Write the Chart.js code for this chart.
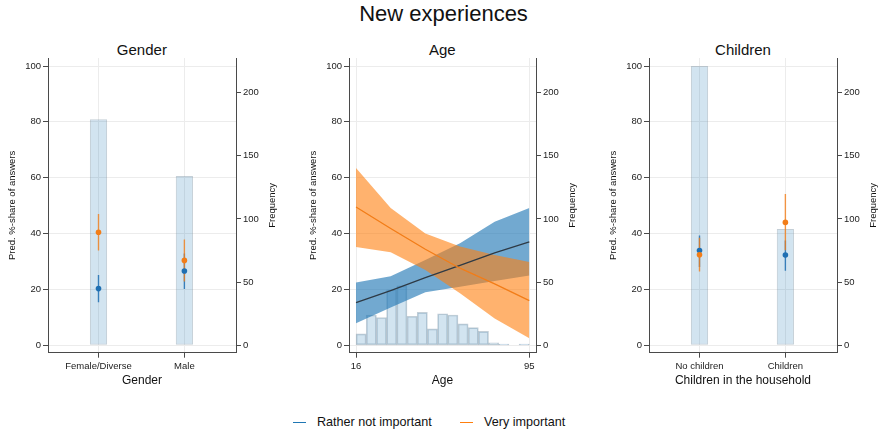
<!DOCTYPE html>
<html>
<head>
<meta charset="utf-8">
<title>New experiences</title>
<script src="https://cdn.jsdelivr.net/npm/chart.js@4.4.1/dist/chart.umd.min.js"></script>
<style>
  html, body { margin: 0; padding: 0; background: #fff; }
  #fig { position: relative; width: 880px; height: 432px; overflow: hidden; background: #fff;
         font-family: "Liberation Sans", Arial, Helvetica, sans-serif; color: #111; }
  .txt { position: absolute; white-space: nowrap; line-height: 1; }
  .panel { position: absolute; top: 40px; }
  .key { position: absolute; height: 1.6px; width: 13px; }
</style>
</head>
<body>
<div id="fig">
  <div class="txt" style="left:0; width:887px; text-align:center; top:3px; font-size:22px;">New experiences</div>
  <div class="txt" style="left:41.9px; width:200px; text-align:center; top:41.6px; font-size:15px;">Gender</div>
  <div class="txt" style="left:342.3px; width:200px; text-align:center; top:41.6px; font-size:15px;">Age</div>
  <div class="txt" style="left:643px; width:200px; text-align:center; top:41.6px; font-size:15px;">Children</div>

  <canvas class="panel" id="gender" width="286" height="360" style="left:0px"></canvas>
  <canvas class="panel" id="age" width="285" height="360" style="left:301px"></canvas>
  <canvas class="panel" id="children" width="286" height="360" style="left:601px"></canvas>

  <div class="key" style="left:293px; top:421.5px; background:#1f77b4;"></div>
  <div class="txt" style="left:317px; top:416px; font-size:12.6px;">Rather not important</div>
  <div class="key" style="left:460px; top:421.5px; background:#ff7f0e;"></div>
  <div class="txt" style="left:484px; top:416px; font-size:12.6px;">Very important</div>
</div>

<script>
// ---- Gender ----
const genderCategories = ['Female/Diverse', 'Male'];
const genderFrequency = [179, 134];
const genderRatherNot = [20.3, 26.6];
const genderRatherNotLow = [15.4, 20.2];
const genderRatherNotHigh = [25.2, 32.9];
const genderVery = [40.5, 30.4];
const genderVeryLow = [33.9, 22.8];
const genderVeryHigh = [47.0, 37.9];

// ---- Children in the household ----
const childrenCategories = ['No children', 'Children'];
const childrenFrequency = [221, 92];
const childrenRatherNot = [33.9, 32.3];
const childrenRatherNotLow = [28.0, 26.7];
const childrenRatherNotHigh = [39.3, 37.5];
const childrenVery = [32.4, 44.0];
const childrenVeryLow = [26.4, 34.0];
const childrenVeryHigh = [38.5, 54.2];

// ---- Age: predictions at evaluation points ----
const ageAt = [16, 31.8, 47.6, 63.4, 79.2, 95];
const ageRatherNot = [15.3, 19.6, 24.2, 28.6, 33.1, 37.0];
const ageRatherNotLow = [7.9, 13.5, 19.0, 21.0, 23.0, 25.0];
const ageRatherNotHigh = [22.5, 24.7, 30.5, 36.5, 44.2, 49.2];
const ageVery = [49.5, 41.8, 34.4, 27.6, 22.0, 16.0];
const ageVeryLow = [35.2, 33.3, 27.0, 18.6, 9.6, 2.5];
const ageVeryHigh = [63.5, 49.2, 40.0, 35.4, 32.3, 29.8];

// ---- Age histogram (17 equal bins from 16 to 95) ----
const ageBinFirst = 16;
const ageBinLast = 95;
const ageBinCounts = [9, 24, 22, 44, 47, 23, 26, 13, 25, 24, 17, 14, 11, 2, 1, 0, 1];
const ageTicks = [16, 95];

// ---- Axis ticks and titles ----
const shareTicks = [0, 20, 40, 60, 80, 100];
const frequencyTicks = [0, 50, 100, 150, 200];
const shareTitle = 'Pred. %-share of answers';
const frequencyTitle = 'Frequency';

// ---- Styling ----
const FONT = '"Liberation Sans", Arial, Helvetica, sans-serif';
const BLUE = 'rgb(31,111,178)';
const ORANGE = 'rgb(242,125,24)';
const BLUE_CI = 'rgba(31,111,178,0.85)';
const ORANGE_CI = 'rgba(242,125,24,0.8)';
const BLUE_BAND = 'rgba(31,119,180,0.63)';
const ORANGE_BAND = 'rgba(255,127,14,0.6)';
const BAR_FILL = 'rgba(31,119,180,0.2)';
const BAR_EDGE = 'rgba(115,140,160,0.42)';
const AXIS = '#4a4a4a';
const GRID = '#ececec';
const TEXT = '#222';

function fixedTicks(values) {
  return scale => { scale.ticks = values.map(v => ({ value: v })); };
}

// Right-hand axis title, written bottom-to-top like the left one
const rightAxisTitle = {
  id: 'rightAxisTitle',
  afterDraw(chart) {
    const s = chart.scales.y2;
    const area = chart.chartArea;
    const ctx = chart.ctx;
    ctx.save();
    ctx.translate(s.right - 13.5, (area.top + area.bottom) / 2);
    ctx.rotate(-Math.PI / 2);
    ctx.font = '9.5px ' + FONT;
    ctx.fillStyle = '#111';
    ctx.textAlign = 'center';
    ctx.textBaseline = 'middle';
    ctx.fillText(frequencyTitle, 0, 0);
    ctx.restore();
  }
};

function panelOptions(xCfg) {
  return {
    responsive: false,
    animation: false,
    devicePixelRatio: 1,
    layout: { padding: { top: 18, left: 0, right: 0, bottom: 0 } },
    plugins: { legend: { display: false }, tooltip: { enabled: false }, title: { display: false } },
    scales: {
      x: {
        type: 'linear',
        offset: false,
        min: xCfg.min,
        max: xCfg.max,
        afterBuildTicks: fixedTicks(xCfg.ticks),
        afterFit: s => { s.height = 47.3; },
        ticks: {
          autoSkip: false, maxRotation: 0, minRotation: 0, padding: 2.6,
          color: TEXT, font: { family: FONT, size: 9.5 },
          callback: xCfg.label
        },
        grid: { offset: false, color: GRID, tickColor: AXIS, tickLength: 5, lineWidth: 1 },
        border: { color: AXIS, width: 1 },
        title: { display: true, text: xCfg.title, color: '#111',
                 font: { family: FONT, size: 12 }, padding: { top: 0, bottom: 12.3 } }
      },
      y: {
        type: 'linear', position: 'left',
        min: -2.65, max: 102.87,
        afterBuildTicks: fixedTicks(shareTicks),
        afterFit: s => { s.width = 48; },
        ticks: { padding: 2, color: TEXT, font: { family: FONT, size: 9.5 } },
        grid: { color: GRID, tickColor: AXIS, tickLength: 5, lineWidth: 1 },
        border: { color: AXIS, width: 1 },
        title: { display: true, text: shareTitle, color: '#111',
                 font: { family: FONT, size: 9.5 }, padding: { top: 6.9, bottom: 0 } }
      },
      y2: {
        type: 'linear', position: 'right',
        min: -5.86, max: 227.4,
        afterBuildTicks: fixedTicks(frequencyTicks),
        afterFit: s => { s.width = 50; },
        ticks: { padding: 2, color: TEXT, font: { family: FONT, size: 9.5 } },
        grid: { drawOnChartArea: false, tickColor: AXIS, tickLength: 5 },
        border: { color: AXIS, width: 1 },
        title: { display: false }
      }
    }
  };
}

// Vertical confidence segments, one per category, separated by gaps
function ciSegments(low, high) {
  return low.flatMap((lo, i) => [{ x: i, y: lo }, { x: i, y: high[i] }, { x: i + 0.5, y: null }]);
}

function categoryPanel(id, categories, freq, rn, rnLo, rnHi, vi, viLo, viHi, xTitle) {
  const idx = categories.map((_, i) => i);
  new Chart(document.getElementById(id), {
    type: 'scatter',
    plugins: [rightAxisTitle],
    data: {
      datasets: [
        { type: 'bar', yAxisID: 'y2', order: 10,
          data: idx.map(i => ({ x: i, y: freq[i] })),
          backgroundColor: BAR_FILL, borderColor: BAR_EDGE, borderWidth: 1, borderSkipped: false,
          categoryPercentage: 1, barPercentage: 0.2 },
        { type: 'line', yAxisID: 'y', order: 6, data: ciSegments(rnLo, rnHi),
          borderColor: BLUE_CI, borderWidth: 1.4, pointRadius: 0, spanGaps: false, fill: false },
        { type: 'line', yAxisID: 'y', order: 5, data: ciSegments(viLo, viHi),
          borderColor: ORANGE_CI, borderWidth: 1.4, pointRadius: 0, spanGaps: false, fill: false },
        { type: 'scatter', yAxisID: 'y', order: 2, data: idx.map(i => ({ x: i, y: rn[i] })),
          pointRadius: 2.8, pointBackgroundColor: BLUE, pointBorderWidth: 0 },
        { type: 'scatter', yAxisID: 'y', order: 1, data: idx.map(i => ({ x: i, y: vi[i] })),
          pointRadius: 2.8, pointBackgroundColor: ORANGE, pointBorderWidth: 0 }
      ]
    },
    options: panelOptions({
      min: -0.588, max: 1.601, ticks: idx,
      label: v => categories[v] ?? '',
      title: xTitle
    })
  });
}

categoryPanel('gender', genderCategories, genderFrequency,
  genderRatherNot, genderRatherNotLow, genderRatherNotHigh,
  genderVery, genderVeryLow, genderVeryHigh, 'Gender');

categoryPanel('children', childrenCategories, childrenFrequency,
  childrenRatherNot, childrenRatherNotLow, childrenRatherNotHigh,
  childrenVery, childrenVeryLow, childrenVeryHigh, 'Children in the household');

// Age panel: histogram, two confidence bands and two prediction lines
(function () {
  const binWidth = (ageBinLast - ageBinFirst) / ageBinCounts.length;
  const pts = arr => ageAt.map((a, i) => ({ x: a, y: arr[i] }));
  const edge = { type: 'line', yAxisID: 'y', pointRadius: 0, borderWidth: 0, tension: 0 };
  new Chart(document.getElementById('age'), {
    type: 'scatter',
    plugins: [rightAxisTitle],
    data: {
      datasets: [
        { type: 'bar', yAxisID: 'y2', order: 10,
          data: ageBinCounts.map((c, i) => ({ x: ageBinFirst + (i + 0.5) * binWidth, y: c })),
          backgroundColor: BAR_FILL, borderColor: BAR_EDGE, borderWidth: 1, borderSkipped: false,
          categoryPercentage: 1, barPercentage: 1 },
        Object.assign({}, edge, { order: 8, data: pts(ageRatherNotLow), borderColor: 'transparent', fill: false }),
        Object.assign({}, edge, { order: 8, data: pts(ageRatherNotHigh), borderColor: 'transparent',
          backgroundColor: BLUE_BAND, fill: '-1' }),
        Object.assign({}, edge, { order: 6, data: pts(ageVeryLow), borderColor: 'transparent', fill: false }),
        Object.assign({}, edge, { order: 6, data: pts(ageVeryHigh), borderColor: 'transparent',
          backgroundColor: ORANGE_BAND, fill: '-1' }),
        { type: 'line', yAxisID: 'y', order: 3, data: pts(ageRatherNot), borderColor: '#2e3a45',
          borderWidth: 1.3, pointRadius: 0, fill: false, tension: 0 },
        { type: 'line', yAxisID: 'y', order: 2, data: pts(ageVery), borderColor: ORANGE,
          borderWidth: 1.3, pointRadius: 0, fill: false, tension: 0 }
      ]
    },
    options: panelOptions({
      min: 12.8, max: 98.05, ticks: ageTicks,
      label: v => String(v),
      title: 'Age'
    })
  });
})();
</script>
</body>
</html>
